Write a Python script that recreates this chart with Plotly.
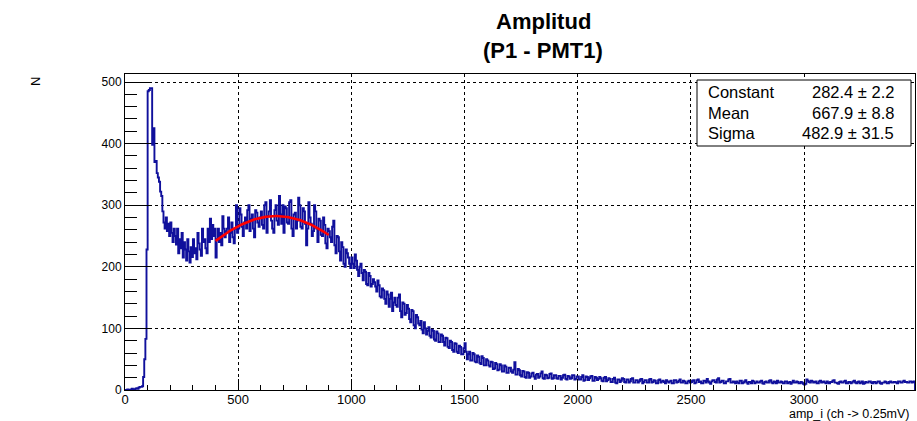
import numpy as np
import plotly.graph_objects as go

# ---------------- data ----------------
bin_width = 5
counts = [
    0, 0, 1, 0, 0, 1, 2, 1, 1, 2, 3, 2, 4, 5, 5, 6, 21, 50, 83, 228,
    485, 487, 490, 490, 398, 425, 370, 372, 352, 345, 338, 322, 315, 290, 272, 262, 280, 258, 270, 250,
    272, 255, 240, 262, 250, 236, 262, 222, 245, 230, 255, 215, 240, 228, 210, 245, 225, 207, 232, 216,
    245, 222, 230, 212, 255, 238, 228, 218, 262, 240, 245, 230, 222, 262, 240, 278, 245, 268, 250, 262,
    215, 245, 262, 240, 255, 235, 282, 262, 248, 258, 262, 280, 240, 255, 272, 248, 238, 262, 300, 255,
    262, 295, 285, 265, 250, 272, 280, 262, 292, 300, 258, 278, 285, 262, 248, 292, 288, 272, 265, 280,
    290, 268, 262, 300, 305, 255, 282, 290, 308, 275, 262, 255, 292, 300, 275, 268, 315, 285, 270, 300,
    255, 298, 295, 272, 270, 305, 308, 262, 250, 285, 288, 262, 275, 312, 300, 265, 262, 295, 290, 270,
    235, 262, 305, 280, 270, 250, 258, 300, 290, 262, 240, 278, 275, 252, 250, 280, 268, 238, 230, 262,
    258, 248, 240, 265, 275, 235, 222, 250, 248, 225, 210, 240, 232, 205, 200, 228, 222, 215, 205, 198,
    215, 205, 198, 220, 210, 195, 185, 200, 205, 190, 178, 195, 192, 172, 170, 190, 185, 168, 172, 180,
    175, 168, 160, 178, 170, 152, 150, 165, 162, 148, 140, 160, 155, 135, 148, 158, 128, 142, 150, 138,
    135, 150, 155, 128, 118, 142, 140, 122, 125, 138, 132, 115, 110, 130, 128, 105, 100, 122, 118, 108,
    105, 112, 98, 92, 110, 100, 90, 96, 102, 88, 85, 98, 96, 82, 80, 95, 92, 78, 78, 90,
    88, 78, 72, 85, 84, 70, 68, 80, 78, 65, 62, 76, 75, 62, 60, 72, 70, 58, 58, 68,
    76, 62, 50, 58, 62, 48, 48, 60, 58, 46, 45, 56, 54, 44, 42, 55, 52, 40, 40, 50,
    48, 40, 38, 46, 45, 34, 35, 44, 42, 32, 33, 42, 40, 30, 30, 40, 38, 28, 28, 36,
    36, 30, 28, 33, 45, 25, 25, 34, 32, 24, 22, 31, 30, 21, 20, 29, 28, 20, 22, 27,
    28, 22, 18, 25, 26, 20, 22, 27, 30, 19, 18, 25, 24, 19, 20, 26, 27, 18, 19, 24,
    24, 19, 18, 23, 23, 17, 20, 24, 25, 18, 17, 23, 22, 18, 19, 24, 24, 17, 18, 22,
    22, 17, 17, 21, 24, 15, 16, 22, 21, 16, 19, 22, 23, 15, 15, 21, 20, 16, 18, 21,
    19, 15, 14, 20, 21, 14, 16, 19, 18, 13, 13, 18, 20, 12, 11, 17, 17, 13, 15, 19,
    18, 13, 12, 17, 17, 12, 14, 18, 19, 12, 12, 16, 16, 12, 14, 17, 18, 11, 13, 16,
    16, 12, 12, 17, 18, 12, 13, 16, 15, 11, 11, 16, 17, 12, 14, 15, 13, 11, 16, 14,
    12, 14, 15, 11, 11, 16, 16, 12, 13, 15, 17, 12, 12, 15, 14, 11, 11, 14, 15, 12,
    13, 15, 16, 11, 12, 16, 17, 13, 14, 11, 11, 15, 15, 12, 18, 14, 12, 10, 14, 16,
    16, 13, 12, 17, 19, 12, 13, 15, 15, 11, 11, 14, 14, 17, 18, 12, 12, 14, 13, 11,
    14, 12, 11, 15, 15, 11, 12, 14, 16, 12, 10, 13, 13, 11, 15, 14, 11, 12, 14, 12,
    12, 14, 15, 11, 10, 13, 14, 12, 12, 15, 16, 12, 11, 14, 13, 11, 15, 12, 12, 14,
    13, 11, 11, 14, 14, 11, 12, 13, 10, 12, 15, 12, 12, 14, 13, 11, 11, 13, 12, 10,
    9, 10, 17, 15, 13, 12, 15, 14, 12, 13, 14, 11, 11, 14, 15, 12, 13, 14, 12, 11,
    14, 12, 11, 13, 13, 15, 16, 12, 12, 11, 10, 13, 14, 12, 12, 14, 15, 11, 11, 13,
    13, 11, 12, 14, 15, 12, 11, 13, 14, 11, 12, 14, 10, 11, 13, 12, 12, 14, 14, 12,
    11, 13, 13, 11, 12, 14, 14, 11, 10, 12, 12, 14, 13, 11, 11, 13, 14, 12, 12, 13,
    13, 12, 11, 14, 14, 12, 12, 14, 15, 13, 13, 12, 12, 14, 14, 12, 13, 14,
]

fit_names = ["Constant", "Mean", "Sigma"]
fit_values = [282.4, 667.9, 482.9]
fit_errors = [2.2, 8.8, 31.5]
fit_range = [400, 900]

x_ticks = [0, 500, 1000, 1500, 2000, 2500, 3000]
y_ticks = [0, 100, 200, 300, 400, 500]

# ---------------- figure ----------------
edges = np.arange(len(counts) + 1) * bin_width
hx = np.concatenate([[0], edges[:-1], [edges[-1]], [edges[-1]]])
hy = np.concatenate([[0], counts, [counts[-1]], [0]])

const, mean, sigma = fit_values
fx = np.linspace(fit_range[0], fit_range[1], 200)
fy = const * np.exp(-0.5 * ((fx - mean) / sigma) ** 2)

FONT = "Liberation Sans, Arial, Helvetica, sans-serif"

fig = go.Figure()
fig.add_trace(go.Scatter(x=hx, y=hy, mode="lines", line=dict(color="#10109c", width=1.9, shape="hv"),
                         hoverinfo="skip"))
fig.add_trace(go.Scatter(x=fx, y=fy, mode="lines", line=dict(color="#ff0000", width=2.6),
                         hoverinfo="skip"))

L, R, T, B = 125, 2, 74, 31
W, H = 917, 421
pw = W - L - R
ph = H - T - B


def px(xp):
    return (xp - L) / pw


def py(yp):
    return (H - B - yp) / ph


fig.update_layout(
    width=W, height=H,
    margin=dict(l=L, r=R, t=T, b=B),
    paper_bgcolor="white", plot_bgcolor="white",
    showlegend=False,
    font=dict(family=FONT, color="black"),
)
fig.update_xaxes(
    range=[0, 3490], tickvals=x_ticks, ticks="inside", ticklen=11, tickcolor="black", tickwidth=1,
    showline=True, linecolor="black", linewidth=1, mirror=True, ticklabelstandoff=-3,
    showgrid=True, gridcolor="black", griddash="dot", gridwidth=1, zeroline=False,
    tickfont=dict(size=13, family=FONT, color="black"),
    minor=dict(dtick=100, tick0=0, ticks="inside", ticklen=5, tickcolor="black", showgrid=False),
)
fig.update_yaxes(
    range=[0, 513], tickvals=y_ticks, ticks="inside", ticklen=24, tickcolor="black", tickwidth=1,
    showline=True, linecolor="black", linewidth=1, mirror=True,
    showgrid=True, gridcolor="black", griddash="dot", gridwidth=1, zeroline=False,
    tickfont=dict(size=12, family=FONT, color="black"),
    minor=dict(dtick=20, tick0=0, ticks="inside", ticklen=12, tickcolor="black", showgrid=False),
)

# stats box
fig.add_shape(type="rect", xref="paper", yref="paper", x0=px(697), x1=px(911), y0=py(146), y1=py(80),
              line=dict(color="black", width=1), fillcolor="white", layer="above")
rows_y = [92, 113, 133]
for name, val, err, yy in zip(fit_names, fit_values, fit_errors, rows_y):
    fig.add_annotation(xref="paper", yref="paper", x=px(706), y=py(yy), text=name, showarrow=False,
                       xanchor="left", yanchor="middle", font=dict(size=16.5, family=FONT, color="black"))
    fig.add_annotation(xref="paper", yref="paper", x=px(896), y=py(yy), text=f"{val:.1f} \u00b1 {err:.1f}",
                       showarrow=False, xanchor="right", yanchor="middle",
                       font=dict(size=16.5, family=FONT, color="black"))

# title
fig.add_annotation(xref="paper", yref="paper", x=px(543), y=py(21), text="<b>Amplitud</b>", showarrow=False,
                   xanchor="center", yanchor="middle", font=dict(size=22, family=FONT, color="black"))
fig.add_annotation(xref="paper", yref="paper", x=px(543), y=py(50), text="<b>(P1 - PMT1)</b>", showarrow=False,
                   xanchor="center", yanchor="middle", font=dict(size=22, family=FONT, color="black"))

# axis titles
fig.add_annotation(xref="paper", yref="paper", x=px(912), y=py(413.5), text="amp_i (ch -> 0.25mV)",
                   showarrow=False, xanchor="right", yanchor="middle",
                   font=dict(size=12.5, family=FONT, color="black"))
fig.add_annotation(xref="paper", yref="paper", x=px(35), y=py(82), text="N", textangle=-90,
                   showarrow=False, xanchor="center", yanchor="middle",
                   font=dict(size=13, family=FONT, color="black"))

fig.write_html("out.html")
